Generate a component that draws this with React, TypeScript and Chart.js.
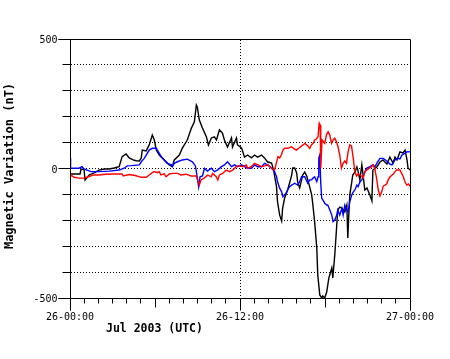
import { useEffect, useRef } from "react";
import { Chart, registerables } from "chart.js";

Chart.register(...registerables);

// ---- Data (hours since 26 Jul 2003 00:00 UTC, values in nT) ----
const blackHours = [0, 0.28, 0.71, 0.78, 0.99, 1.06, 1.35, 1.7, 2.05, 2.41, 2.76, 3.12, 3.47, 3.68, 3.96, 4.18, 4.46, 4.67, 4.89, 5.03, 5.1, 5.38, 5.59, 5.81, 5.95, 6.09, 6.3, 6.65, 7.01, 7.22, 7.36, 7.72, 7.93, 8.28, 8.57, 8.78, 8.92, 8.99, 9.13, 9.35, 9.63, 9.77, 9.98, 10.19, 10.34, 10.55, 10.76, 10.9, 11.12, 11.4, 11.47, 11.75, 11.82, 12.11, 12.32, 12.53, 12.81, 13.03, 13.24, 13.52, 13.73, 13.95, 14.23, 14.37, 14.58, 14.65, 14.8, 14.94, 15.01, 15.15, 15.36, 15.5, 15.65, 15.72, 15.86, 16.0, 16.07, 16.21, 16.35, 16.42, 16.57, 16.71, 16.92, 17.06, 17.13, 17.27, 17.42, 17.49, 17.63, 17.77, 17.84, 17.98, 18.12, 18.27, 18.48, 18.55, 18.69, 18.83, 18.9, 19.04, 19.19, 19.4, 19.54, 19.61, 19.68, 19.75, 19.89, 19.96, 20.11, 20.25, 20.32, 20.46, 20.6, 20.67, 20.81, 20.96, 21.17, 21.31, 21.38, 21.66, 21.88, 22.09, 22.37, 22.58, 22.8, 22.94, 23.08, 23.29, 23.5, 23.65, 23.79, 23.86, 24.0];
const blackValues = [-21, -21, -21, -2, -4, -44, -25, -17, -6, -2, -2, 2, 7, 46, 56, 41, 33, 30, 29, 41, 71, 68, 91, 129, 110, 71, 52, 33, 14, 7, 33, 52, 79, 110, 156, 180, 245, 237, 187, 156, 122, 91, 118, 122, 110, 149, 137, 110, 83, 118, 83, 118, 91, 79, 44, 52, 41, 52, 44, 52, 41, 25, 21, -6, -71, -129, -180, -203, -153, -114, -83, -56, -25, 2, 2, -17, -52, -75, -44, -25, -14, -29, -71, -102, -133, -207, -307, -411, -488, -500, -492, -500, -477, -423, -384, -423, -334, -218, -160, -149, -153, -168, -141, -268, -180, -102, -52, -25, -14, 6, -6, -44, 14, -17, -83, -75, -102, -125, -6, 6, 25, 33, 17, 44, 21, 44, 33, 64, 60, 71, 33, 2, -6];

const blueHours = [0, 0.04, 0.64, 0.85, 0.99, 1.2, 1.49, 2.05, 2.76, 3.47, 3.82, 4.04, 4.32, 4.89, 5.03, 5.24, 5.38, 5.59, 5.81, 6.09, 6.23, 6.44, 6.65, 6.87, 7.15, 7.22, 7.36, 7.58, 7.93, 8.28, 8.64, 8.85, 8.92, 8.99, 9.08, 9.18, 9.35, 9.49, 9.7, 9.98, 10.19, 10.41, 10.69, 10.9, 11.12, 11.4, 11.61, 11.82, 12.11, 12.32, 12.53, 12.81, 13.03, 13.24, 13.52, 13.73, 13.95, 14.23, 14.44, 14.58, 14.65, 14.8, 14.94, 15.03, 15.15, 15.29, 15.36, 15.5, 15.65, 15.86, 16.07, 16.21, 16.35, 16.57, 16.78, 16.92, 17.06, 17.13, 17.27, 17.42, 17.51, 17.56, 17.63, 17.7, 17.77, 17.86, 17.98, 18.12, 18.19, 18.34, 18.48, 18.57, 18.69, 18.83, 18.9, 19.04, 19.19, 19.28, 19.4, 19.54, 19.63, 19.75, 19.89, 19.99, 20.11, 20.25, 20.34, 20.46, 20.6, 20.67, 20.93, 21.17, 21.38, 21.52, 21.66, 21.81, 21.88, 22.11, 22.37, 22.58, 22.73, 22.94, 23.15, 23.29, 23.43, 23.65, 23.79, 24.0];
const blueValues = [41, 1, 1, 7, -2, -6, -12, -12, -10, -6, 1, 10, 11, 14, 26, 39, 52, 71, 78, 78, 65, 46, 33, 20, 14, 7, 20, 26, 33, 36, 26, 10, -12, -38, -70, -32, -29, 1, -10, 1, -12, -6, 7, 14, 26, 7, 14, 7, 14, 7, 1, 1, 14, 7, 7, 20, 14, 1, -12, -32, -51, -76, -90, -109, -102, -91, -83, -70, -64, -57, -64, -51, -32, -32, -57, -44, -44, -38, -32, -51, -32, 39, 52, -56, -115, -122, -134, -141, -141, -160, -180, -205, -199, -180, -160, -180, -154, -180, -141, -160, -168, -128, -102, -91, -83, -64, -70, -52, -44, -33, 1, 7, 14, 6, 21, 33, 39, 39, 29, 17, 14, 33, 39, 37, 52, 59, 65, 64];

const redHours = [0, 0.07, 0.28, 0.64, 0.99, 1.35, 1.63, 2.05, 2.48, 3.19, 3.68, 3.75, 4.18, 4.6, 5.03, 5.38, 5.59, 5.81, 5.95, 6.16, 6.3, 6.42, 6.65, 6.78, 7.01, 7.24, 7.6, 7.84, 8.19, 8.55, 8.9, 9.01, 9.13, 9.25, 9.49, 9.72, 9.96, 10.07, 10.32, 10.43, 10.55, 10.78, 11.02, 11.26, 11.49, 11.73, 11.96, 12.2, 12.44, 12.55, 12.79, 13.03, 13.26, 13.52, 13.73, 13.97, 14.21, 14.44, 14.56, 14.68, 14.8, 14.92, 15.03, 15.15, 15.38, 15.62, 15.86, 15.98, 16.21, 16.45, 16.57, 16.8, 16.92, 17.04, 17.16, 17.27, 17.39, 17.51, 17.59, 17.66, 17.7, 17.79, 17.98, 18.1, 18.22, 18.34, 18.46, 18.57, 18.69, 18.81, 18.92, 19.04, 19.16, 19.28, 19.4, 19.52, 19.63, 19.75, 19.87, 19.99, 20.11, 20.23, 20.34, 20.46, 20.58, 20.7, 20.81, 21.05, 21.29, 21.4, 21.52, 21.64, 21.76, 21.88, 22.0, 22.11, 22.35, 22.46, 22.58, 22.82, 22.94, 23.06, 23.29, 23.41, 23.53, 23.65, 23.77, 23.89, 24.0];
const redValues = [-19, -25, -34, -37, -37, -31, -25, -25, -22, -21, -21, -29, -23, -27, -34, -34, -25, -16, -12, -16, -12, -25, -21, -32, -21, -19, -19, -25, -22, -29, -29, -44, -64, -44, -36, -25, -32, -19, -32, -44, -25, -19, -6, -12, -6, 7, 11, 7, 14, 1, 7, 20, 14, 7, 10, 14, 1, -6, 20, 46, 41, 52, 71, 78, 78, 84, 75, 71, 81, 91, 97, 87, 78, 91, 97, 110, 114, 123, 175, 168, 1, 110, 97, 129, 142, 129, 97, 110, 117, 103, 84, 52, 1, 20, 29, 20, 65, 91, 87, 41, -14, -29, -21, -25, -29, -37, -12, -2, 7, 14, -2, -37, -83, -106, -91, -68, -60, -44, -33, -21, -12, -6, -6, -19, -32, -52, -64, -60, -68];

// ---- Axis ticks & labels ----
const yGridValues = [-400, -300, -200, -100, 0, 100, 200, 300, 400];
const yMinorTicks = [-400, -300, -200, -100, 100, 200, 300, 400];
const yMajorTicks = [500, 0, -500];
const yTickLabels = ["500", "0", "-500"];
const xHourTicks = Array.from({ length: 25 }, (_, i) => i);
const xLabelHours = [0, 12, 24];
const xTickLabels = ["26-00:00", "26-12:00", "27-00:00"];
const xAxisTitle = "Jul 2003 (UTC)";
const yAxisTitle = "Magnetic Variation (nT)";

const toPoints = (hs: number[], vs: number[]) => hs.map((h, i) => ({ x: h, y: vs[i] }));

const crisp = (v: number) => Math.floor(v) + 0.5;

const axesPlugin = {
  id: "customAxes",
  beforeDatasetsDraw(chart: any) {
    const { ctx, chartArea, scales } = chart;
    const xs = scales.x;
    const ys = scales.y;
    ctx.save();
    ctx.strokeStyle = "#000";
    ctx.lineWidth = 1;
    ctx.setLineDash([1, 2]);
    for (const v of yGridValues) {
      const y = crisp(ys.getPixelForValue(v));
      ctx.beginPath();
      ctx.moveTo(chartArea.left + 1, y);
      ctx.lineTo(chartArea.right - 1, y);
      ctx.stroke();
    }
    const xm = crisp(xs.getPixelForValue(12));
    ctx.beginPath();
    ctx.moveTo(xm, chartArea.top + 1);
    ctx.lineTo(xm, chartArea.bottom - 1);
    ctx.stroke();
    ctx.restore();
  },
  afterDatasetsDraw(chart: any) {
    const { ctx, chartArea, scales } = chart;
    const xs = scales.x;
    const ys = scales.y;
    const L = crisp(chartArea.left);
    const R = crisp(chartArea.right);
    const T = crisp(chartArea.top);
    const B = crisp(chartArea.bottom);
    ctx.save();
    ctx.strokeStyle = "#000";
    ctx.lineWidth = 1;
    ctx.setLineDash([]);
    // frame
    ctx.beginPath();
    ctx.moveTo(L - 12, T);
    ctx.lineTo(R, T);
    ctx.moveTo(L - 12, B);
    ctx.lineTo(R, B);
    ctx.moveTo(L, T);
    ctx.lineTo(L, B + 12);
    ctx.moveTo(R, T);
    ctx.lineTo(R, B + 12);
    ctx.stroke();
    // y ticks
    ctx.beginPath();
    for (const v of yMinorTicks) {
      const y = crisp(ys.getPixelForValue(v));
      ctx.moveTo(L - 8, y);
      ctx.lineTo(L, y);
    }
    for (const v of yMajorTicks) {
      const y = crisp(ys.getPixelForValue(v));
      ctx.moveTo(L - 12, y);
      ctx.lineTo(L, y);
    }
    // x ticks
    for (const h of xHourTicks) {
      const x = crisp(xs.getPixelForValue(h));
      const len = h % 12 === 0 ? 12 : h % 6 === 0 ? 9 : 5;
      ctx.moveTo(x, B);
      ctx.lineTo(x, B + len);
    }
    ctx.stroke();

    // labels
    ctx.fillStyle = "#000";
    ctx.font = "10px 'DejaVu Sans Mono', monospace";
    ctx.textAlign = "right";
    ctx.textBaseline = "alphabetic";
    yMajorTicks.forEach((v, i) => {
      const y = ys.getPixelForValue(v);
      ctx.fillText(yTickLabels[i], L - 13, y + 4);
    });
    ctx.textAlign = "center";
    xLabelHours.forEach((h, i) => {
      const x = xs.getPixelForValue(h);
      ctx.fillText(xTickLabels[i], x, 319.5);
    });
    ctx.font = "bold 11.5px 'DejaVu Sans Mono', monospace";
    ctx.textAlign = "left";
    ctx.fillText(xAxisTitle, 106, 332);

    ctx.font = "bold 12px 'DejaVu Sans Mono', monospace";
    ctx.translate(12.7, 166);
    ctx.rotate(-Math.PI / 2);
    ctx.textAlign = "center";
    ctx.fillText(yAxisTitle, 0, 0);
    ctx.restore();
  },
};

export default function App() {
  const ref = useRef<HTMLCanvasElement>(null);
  useEffect(() => {
    const canvas = ref.current;
    if (!canvas) return;
    const chart = new Chart(canvas, {
      type: "line",
      data: {
        datasets: [
          { label: "Red", data: toPoints(redHours, redValues), borderColor: "#ff0000", backgroundColor: "#ff0000" },
          { label: "Blue", data: toPoints(blueHours, blueValues), borderColor: "#0000ff", backgroundColor: "#0000ff" },
          { label: "Black", data: toPoints(blackHours, blackValues), borderColor: "#000000", backgroundColor: "#000000" },
        ],
      },
      options: {
        responsive: false,
        animation: false,
        devicePixelRatio: 1,
        layout: { padding: { left: 70, right: 40, top: 39, bottom: 61 } },
        plugins: { legend: { display: false }, tooltip: { enabled: false } },
        elements: { point: { radius: 0 }, line: { tension: 0, borderWidth: 1.4 } },
        scales: {
          x: { type: "linear", min: 0, max: 24, display: false },
          y: { type: "linear", min: -500, max: 500, display: false },
        },
      },
      plugins: [axesPlugin],
    });
    return () => chart.destroy();
  }, []);
  return (
    <div style={{ position: "absolute", left: 0, top: 0, width: 450, height: 359, background: "#fff" }}>
      <canvas ref={ref} width={450} height={359} style={{ display: "block", width: 450, height: 359 }} />
    </div>
  );
}
